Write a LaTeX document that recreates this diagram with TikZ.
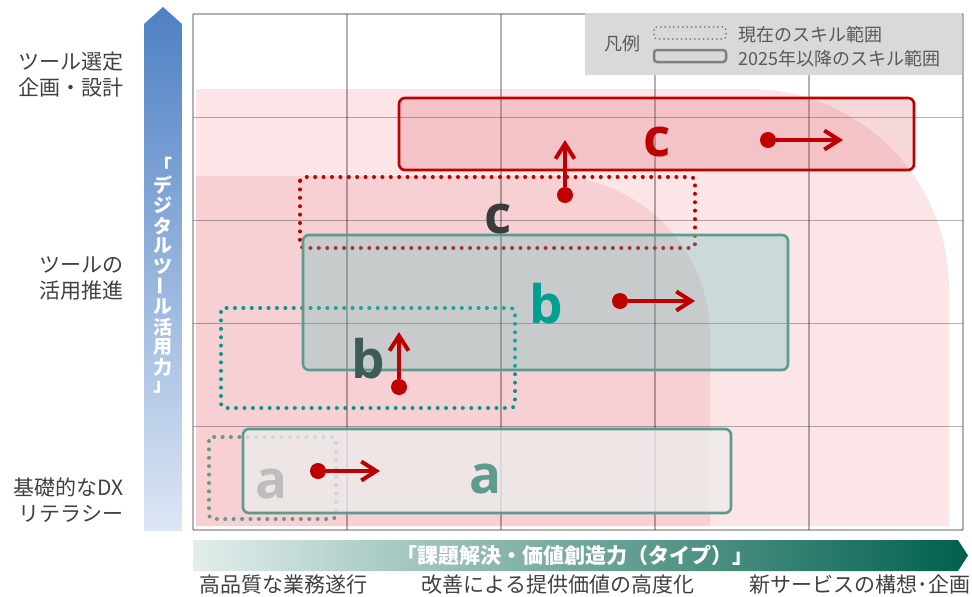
\documentclass[tikz,border=0pt]{standalone}
\usepackage{fontspec}
\setmainfont{Noto Sans CJK JP}
\newfontfamily\latinfont{Open Sans}
\usetikzlibrary{arrows.meta}
\definecolor{skred}{HTML}{C00000}
\definecolor{lightpink}{HTML}{FBE5E7}
\definecolor{darkpink}{HTML}{F6D0D2}
\definecolor{nextteal}{HTML}{5E9A8F}
\definecolor{nowteal}{HTML}{009A8E}
\definecolor{nowgray}{HTML}{6A968D}
\definecolor{bletter}{HTML}{00A090}
\definecolor{afill}{RGB}{237,235,235}
\definecolor{bfill}{RGB}{93,192,188}
\definecolor{cfill}{RGB}{220,85,94}
\definecolor{labelgray}{HTML}{404040}
\definecolor{legendgray}{HTML}{D9D9D9}
\definecolor{legendtext}{HTML}{595959}
\definecolor{bluetop}{HTML}{4D80C4}
\definecolor{bluebottom}{HTML}{DDE6F5}
\definecolor{greenleft}{HTML}{E2EEEC}
\definecolor{greenright}{HTML}{00604D}

\begin{document}
\begin{tikzpicture}[x=1pt,y=-1pt,
    gridline/.style={draw=black, draw opacity=0.3, line width=1.2pt},
    skillnow/.style={line width=4pt, dash pattern=on 0pt off 8.4pt, line cap=round, rounded corners=4pt},
    skillnext/.style={line width=2.6pt, rounded corners=6pt},
    growth/.style={draw=skred, line width=4pt, -{Straight Barb[length=15pt,width=19pt]}},
    startdot/.style={circle, fill=skred, inner sep=0pt, minimum size=16pt},
    tag/.style={anchor=base, font=\latinfont\bfseries\fontsize{53}{53}\selectfont},
    axislabel/.style={anchor=east, align=right, text=labelgray, font=\fontsize{21}{26}\selectfont},
    typelabel/.style={text=labelgray, font=\fontsize{21}{21}\selectfont},
    vtext/.style={text=white, inner sep=0pt, font=\bfseries\fontsize{19}{19}\selectfont},
    legendtext/.style={text=legendtext, font=\fontsize{18}{18}\selectfont}]
  \useasboundingbox (0,0) rectangle (972,597);

  \fill[lightpink] (196,526) -- (196,89) -- (749,89) .. controls (859.5,89) and (949,178.5) .. (949,289) -- (949,526) -- cycle;
  \fill[darkpink] (196,526) -- (196,176) -- (550,176) .. controls (638.4,176) and (710,247.6) .. (710,336) -- (710,526) -- cycle;

  \foreach \i in {0,...,5}
    \draw[gridline] ({193+154*\i},14) -- ({193+154*\i},530);
  \foreach \j in {0,...,5}
    \draw[gridline] (193,{14+103.2*\j}) -- (963,{14+103.2*\j});

  \draw[skillnow, draw=skred] (300,177) rectangle (695,248);
  \draw[skillnow, draw=nowteal] (221,308) rectangle (515,408);
  \draw[skillnow, draw=nowgray] (209,437) rectangle (336,519);

  \draw[skillnext, draw=nextteal, fill=afill, fill opacity=0.78] (243,429) rectangle (731,513);
  \draw[skillnext, draw=nextteal, fill=bfill, fill opacity=0.3] (303,235) rectangle (788,370);
  \draw[skillnext, draw=skred, fill=cfill, fill opacity=0.23] (399,98) rectangle (914,170);

  \node[tag, text=skred] (cnext) at (657,156) {c};
  \node[tag, text=black!77] (cnow) at (498,233) {c};
  \node[tag, text=bletter] (bnext) at (546,323) {b};
  \node[tag, text={rgb,255:red,62;green,92;blue,87}] (bnow) at (368,378) {b};
  \node[tag, text=nextteal] (anext) at (486,493) {a};
  \node[tag, text=black!26] (anow) at (272,498) {a};

  \node[startdot] (cr0) at (768,140) {};
  \coordinate (cr1) at (843,140);
  \draw[growth] (cr0) -- (cr1);
  \node[startdot] (cu0) at (565,195) {};
  \coordinate (cu1) at (565,140);
  \draw[growth] (cu0) -- (cu1);
  \node[startdot] (br0) at (620,301) {};
  \coordinate (br1) at (695,301);
  \draw[growth] (br0) -- (br1);
  \node[startdot] (bu0) at (399,387) {};
  \coordinate (bu1) at (399,332);
  \draw[growth] (bu0) -- (bu1);
  \node[startdot] (ar0) at (318,471) {};
  \coordinate (ar1) at (380,471);
  \draw[growth] (ar0) -- (ar1);

  \fill[legendgray] (585,13) rectangle (962,75);
  \node[legendtext] (legend) at (622,44) {凡例};
  \draw[draw=black!50, line width=2pt, dash pattern=on 0pt off 4.4pt, line cap=round, rounded corners=3pt] (654,27) rectangle (726,39);
  \draw[draw=black!50, line width=2.5pt, rounded corners=3pt] (654,50) rectangle (726,62);
  \node[legendtext, anchor=west] (lgnow) at (735,35) {現在のスキル範囲};
  \node[legendtext, anchor=west] (lgnext) at (735,59) {2025年以降のスキル範囲};

  \shade[top color=bluetop, bottom color=bluebottom] (144,531) -- (144,24) -- (163,7) -- (182,24) -- (182,531) -- cycle;
  \foreach \ch/\r [count=\k] in {「/0,デ/0,ジ/0,タ/0,ル/0,ツ/0,ー/90,ル/0,活/0,用/0,力/0,」/0}
    \node[vtext, rotate=\r] (v\k) at (163,{145+20.2*\k}) {\ch};

  \shade[left color=greenleft, right color=greenright] (193,540) -- (958,540) -- (968,555.5) -- (958,571) -- (193,571) -- cycle;
  \node[text=white, font=\bfseries\fontsize{21}{21}\selectfont] (xname) at (575,555) {「課題解決・価値創造力（タイプ）」};

  \node[axislabel] (ytop) at (127,75) {ツール選定\\企画・設計};
  \node[axislabel] (ymid) at (127,278) {ツールの\\活用推進};
  \node[axislabel] (ylow) at (127,500) {基礎的なDX\\リテラシー};

  \node[typelabel] (xlow) at (283,585) {高品質な業務遂行};
  \node[typelabel] (xmid) at (558,585) {改善による提供価値の高度化};
  \node[typelabel] (xtop) at (860,585) {新サービスの構想･企画};
\end{tikzpicture}
\end{document}
